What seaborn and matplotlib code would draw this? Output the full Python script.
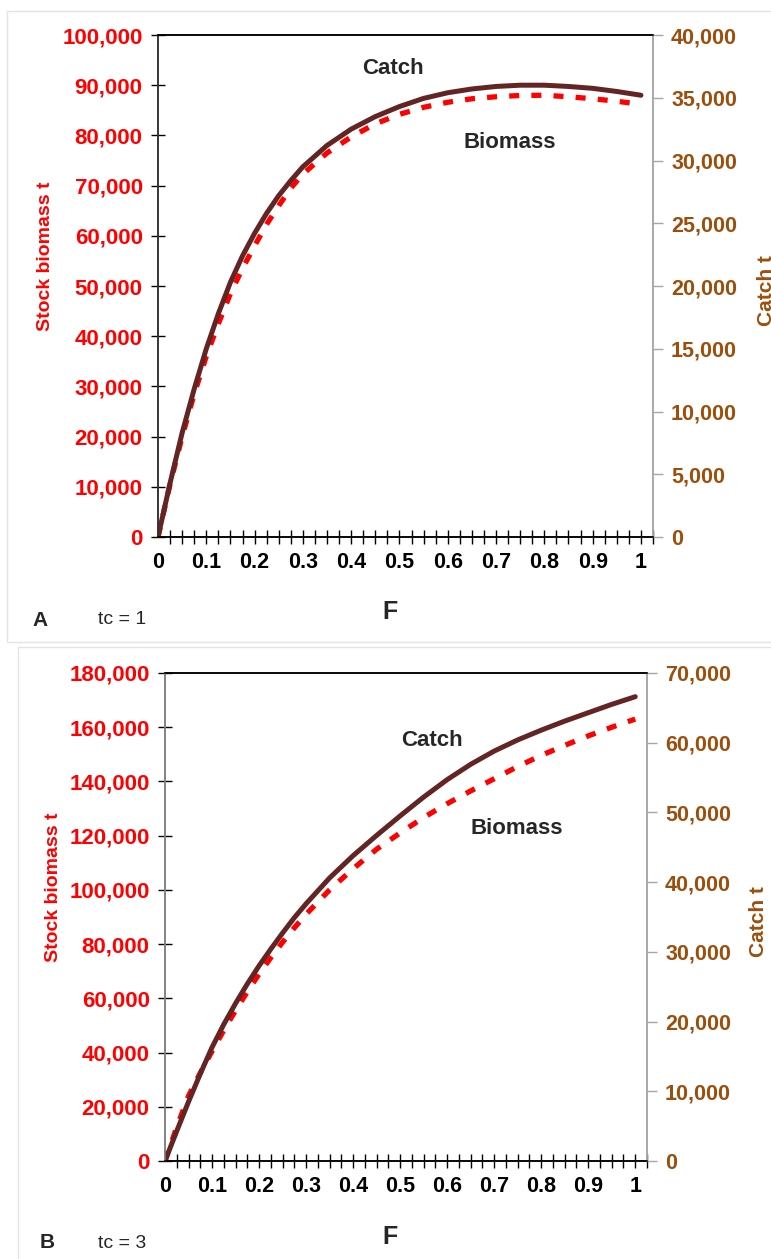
import numpy as np
import pandas as pd
import matplotlib.pyplot as plt
import seaborn as sns
from matplotlib.patches import Rectangle
from matplotlib.ticker import FuncFormatter, MultipleLocator, FixedLocator

sns.set_style('white')
plt.rcParams['font.family'] = ['Liberation Sans', 'DejaVu Sans']

# fishing mortality F (finer steps where the curves bend most)
F = [0, 0.025, 0.05, 0.075, 0.1, 0.125, 0.15, 0.175, 0.2, 0.225, 0.25, 0.275, 0.3,
     0.35, 0.4, 0.45, 0.5, 0.55, 0.6, 0.65, 0.7, 0.75, 0.8, 0.85, 0.9, 0.95, 1.0]

# panel A, tc = 1
biomass_a = [0, 10500, 20000, 28500, 36000, 42500, 48500, 53500, 58000, 62300, 66000, 69500, 72300,
             76500, 79700, 82300, 84200, 85600, 86600, 87300, 87700, 87950, 88000, 87700, 87300,
             86800, 86200]
catch_a = [0, 4300, 8300, 11800, 15000, 17800, 20300, 22400, 24200, 25800, 27200, 28400, 29500,
           31200, 32500, 33500, 34300, 34950, 35400, 35700, 35900, 36000, 36000, 35900, 35750,
           35500, 35200]

# panel B, tc = 3
biomass_b = [0, 12500, 24000, 32500, 40500, 48200, 55500, 62400, 69000, 75000, 80700, 86000, 91000,
             100000, 107800, 115000, 121000, 126700, 131800, 136500, 141000, 145500, 149600,
             153300, 156800, 160000, 163000]
catch_b = [0, 4300, 8500, 12500, 16300, 19600, 22600, 25400, 28000, 30400, 32700, 34900, 36900,
           40600, 43800, 46700, 49500, 52200, 54700, 56900, 58800, 60400, 61800, 63100, 64300,
           65500, 66600]

RED = '#ff0000'
BROWN = '#9c4f0c'
LINE = '#632523'

fig = plt.figure(figsize=(7.71, 12.59), dpi=100)
W, H = 771, 1259

# light panel frames
fig.patches.append(Rectangle((7 / W, 1 - 642 / H), 800 / W, 631 / H, transform=fig.transFigure,
                             fill=False, ec='#e4e4e4', lw=1))
fig.patches.append(Rectangle((18 / W, 1 - 1300 / H), 800 / W, 653 / H, transform=fig.transFigure,
                             fill=False, ec='#e4e4e4', lw=1))

fmt = FuncFormatter(lambda v, p: '{:,.0f}'.format(v))
xfmt = FuncFormatter(lambda v, p: '{:g}'.format(round(v, 1)))


def panel(rect, biomass, catch, bmax, bstep, cmax, cstep, lspine, lab_xy, rlab_xy,
          catch_txt, bio_txt, f_xy, letter, letter_xy, tc, tc_xy):
    ax = fig.add_axes(rect)
    ax2 = ax.twinx()
    df = pd.DataFrame({'F': F, 'Biomass': biomass, 'Catch': catch})
    sns.lineplot(data=df, x='F', y='Biomass', ax=ax, color=RED, lw=3.8)
    ax.lines[0].set_linestyle((0, (1.9, 2.3)))
    ax.lines[0].set_dash_capstyle('butt')
    sns.lineplot(data=df, x='F', y='Catch', ax=ax2, color=LINE, lw=3.6)
    ax2.lines[0].set_solid_capstyle('round')
    ax2.lines[0].set_solid_joinstyle('round')
    ax.set_zorder(1)
    ax.patch.set_visible(False)
    ax2.set_zorder(2)
    ax2.patch.set_visible(False)

    ax.set_xlim(0, 1.025)
    ax.set_ylim(0, bmax)
    ax2.set_ylim(0, cmax)
    ax.yaxis.set_major_locator(MultipleLocator(bstep))
    ax2.yaxis.set_major_locator(MultipleLocator(cstep))
    ax.yaxis.set_major_formatter(fmt)
    ax2.yaxis.set_major_formatter(fmt)
    ax.xaxis.set_major_locator(FixedLocator([i / 10 for i in range(11)]))
    ax.xaxis.set_major_formatter(xfmt)
    ax.xaxis.set_minor_locator(FixedLocator([0.025 * k for k in range(1, 42)]))
    ax.xaxis.remove_overlapping_locs = False

    ax.tick_params(axis='x', which='major', bottom=True, length=0, pad=11,
                   labelsize=15.5, labelcolor='black')
    ax.tick_params(axis='x', which='minor', bottom=True, length=10, direction='inout',
                   width=1, color='black')
    for t in ax.get_xticklabels():
        t.set_fontweight('bold')
    ax.tick_params(axis='y', left=True, length=10, direction='inout', width=1, color='black',
                   labelsize=16, labelcolor=RED, pad=6)
    for t in ax.get_yticklabels():
        t.set_fontweight('bold')
    ax2.tick_params(axis='y', right=True, length=7, direction='out', width=1, color='#a6a6a6',
                    labelsize=15.5, labelcolor=BROWN, pad=6)
    for t in ax2.get_yticklabels():
        t.set_fontweight('bold')

    for a in (ax, ax2):
        a.spines['top'].set_color('black')
        a.spines['bottom'].set_color('black')
        a.spines['left'].set_color(lspine)
        a.spines['right'].set_color('#a6a6a6')
        for s in a.spines.values():
            s.set_linewidth(1.1)

    ax.set_xlabel('')
    ax.set_ylabel('Stock biomass t', color=RED, fontsize=14, fontweight='bold')
    ax.yaxis.set_label_coords(*lab_xy)
    ax2.set_ylabel('Catch t', color=BROWN, fontsize=15, fontweight='bold', rotation=90)
    ax2.yaxis.set_label_coords(*rlab_xy)

    fig.text(catch_txt[0] / W, 1 - catch_txt[1] / H, 'Catch', fontsize=16, fontweight='bold',
             ha='center', va='center')
    fig.text(bio_txt[0] / W, 1 - bio_txt[1] / H, 'Biomass', fontsize=16, fontweight='bold',
             ha='center', va='center')
    fig.text(f_xy[0] / W, 1 - f_xy[1] / H, 'F', fontsize=18, fontweight='bold',
             ha='center', va='center')
    fig.text(letter_xy[0] / W, 1 - letter_xy[1] / H, letter, fontsize=15, fontweight='bold',
             ha='center', va='center')
    fig.text(tc_xy[0] / W, 1 - tc_xy[1] / H, tc, fontsize=14, ha='center', va='center')


panel([158 / W, 1 - 537 / H, 495 / W, 502 / H], biomass_a, catch_a, 100000, 10000, 40000, 5000,
      '#303030', (-0.21, 0.56), (1.21, 0.49), (393, 69), (510, 143), (390, 612),
      'A', (40, 620), 'tc = 1', (122, 620))
panel([165 / W, 1 - 1161 / H, 482 / W, 488 / H], biomass_b, catch_b, 180000, 20000, 70000, 10000,
      '#808080', (-0.213, 0.561), (1.212, 0.49), (432, 741), (517, 828), (390, 1237),
      'B', (47, 1243), 'tc = 3', (122, 1243))

fig.savefig('out.png', dpi=100)
